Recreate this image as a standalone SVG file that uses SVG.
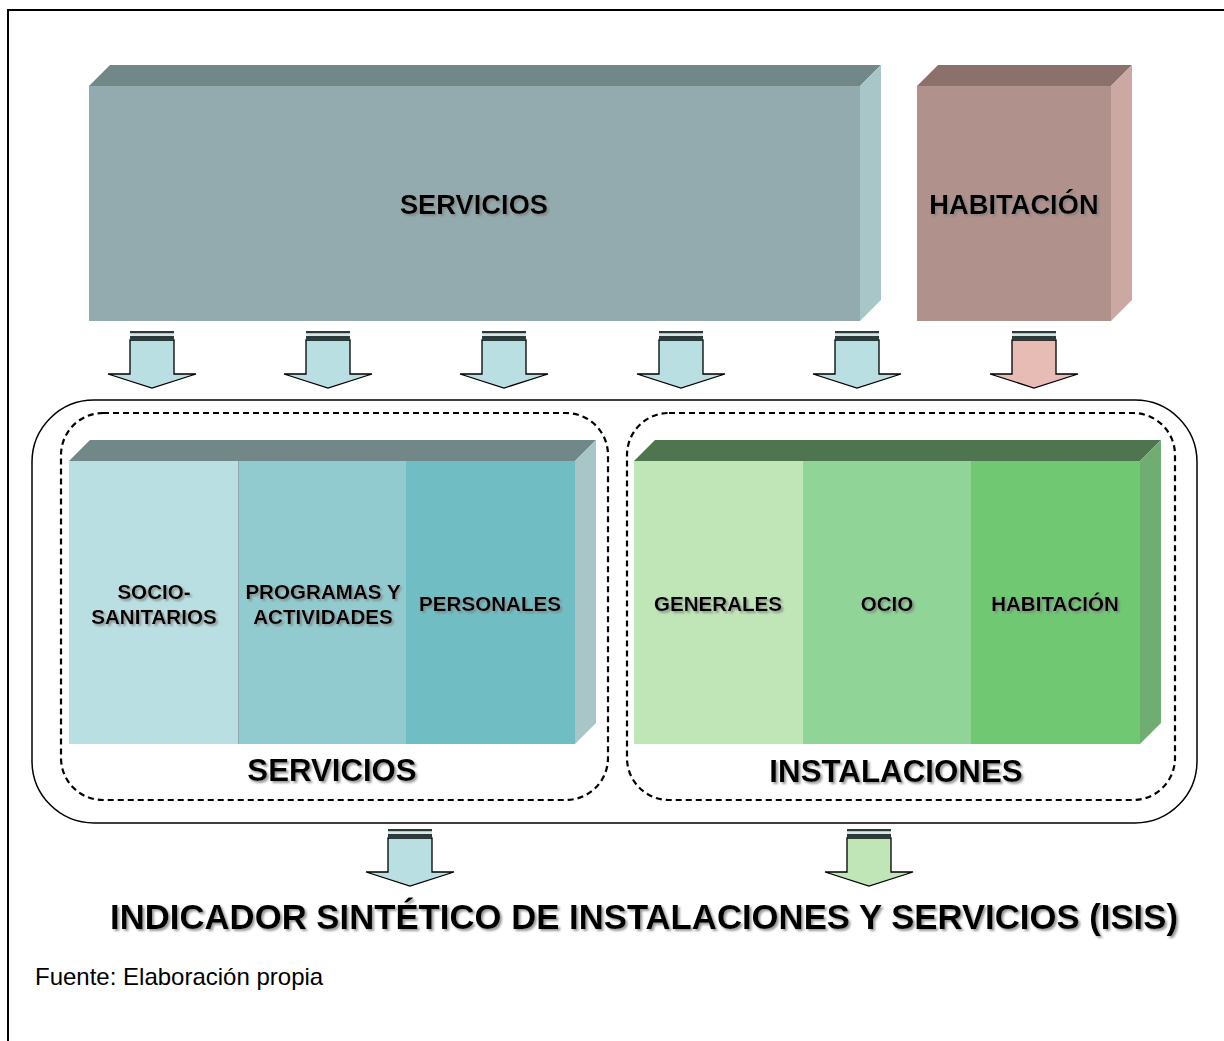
<svg xmlns="http://www.w3.org/2000/svg" width="1224" height="1041" viewBox="0 0 1224 1041">
<style>
  .lbl{font-family:"Liberation Sans",Arial,sans-serif;font-weight:bold;fill:#000;text-anchor:middle;filter:url(#sh)}
  .arrow{stroke:#000;stroke-width:1.3;stroke-linejoin:miter}
  .stripe{fill:#2b3a3a}
  .dash{fill:none;stroke:#000;stroke-width:2.2;stroke-dasharray:6 4}
</style>
<defs>
  <filter id="sh" x="-10%" y="-30%" width="120%" height="160%">
    <feDropShadow dx="2" dy="2" stdDeviation="1" flood-color="#808080" flood-opacity="0.8"/>
  </filter>
  <g id="arrowShape">
    <path class="arrow" d="M-22,9 H22 V43 H44 L0,57 L-44,43 H-22 Z"/>
    <rect class="stripe" x="-22" y="0" width="44" height="2.5"/>
    <rect x="-22" y="2.5" width="44" height="2.5" fill="#d8e6e6" stroke="none"/>
    <rect class="stripe" x="-22" y="5" width="44" height="3.5"/>
  </g>
</defs>
<rect width="1224" height="1041" fill="#fff"/>
<path d="M8,1041 V10 H1224" fill="none" stroke="#000" stroke-width="2"/>

<g id="box-servicios-top">
  <polygon points="89,86 110,65 881,65 860,86" fill="#718788"/>
  <polygon points="860,86 881,65 881,300 860,321" fill="#A8C5C8"/>
  <rect x="89" y="86" width="771" height="235" fill="#93ABAE"/>
  <text class="lbl" x="474" y="214" font-size="27.3">SERVICIOS</text>
</g>
<g id="box-habitacion-top">
  <polygon points="917,86 938,65 1132,65 1111,86" fill="#8B706B"/>
  <polygon points="1111,86 1132,65 1132,300 1111,321" fill="#CBA8A2"/>
  <rect x="917" y="86" width="194" height="235" fill="#B0918B"/>
  <text class="lbl" x="1014" y="214" font-size="27.3">HABITACIÓN</text>
</g>

<g id="connectors">
  <use href="#arrowShape" x="152" y="331" fill="#BADFE2"/>
  <use href="#arrowShape" x="328" y="331" fill="#BADFE2"/>
  <use href="#arrowShape" x="504" y="331" fill="#BADFE2"/>
  <use href="#arrowShape" x="681" y="331" fill="#BADFE2"/>
  <use href="#arrowShape" x="857" y="331" fill="#BADFE2"/>
  <use href="#arrowShape" x="1034" y="331" fill="#E6BCB5"/>
  <use href="#arrowShape" x="410" y="829" fill="#BADFE2"/>
  <use href="#arrowShape" x="869" y="829" fill="#C0E6B8"/>
</g>

<g id="container">
  <rect x="32" y="400" width="1165" height="423" rx="62" ry="62" fill="none" stroke="#000" stroke-width="1.5"/>
</g>

<g id="group-servicios">
  <rect class="dash" x="61" y="413" width="547" height="387" rx="42" ry="42"/>
  <polygon points="69,461 90,440 596,440 575,461" fill="#718788"/>
  <polygon points="575,461 596,440 596,723 575,744" fill="#A8C5C8"/>
  <rect x="69" y="461" width="169" height="283" fill="#BADFE2"/>
  <rect x="238" y="461" width="168" height="283" fill="#91CBCF"/>
  <rect x="406" y="461" width="169" height="283" fill="#70BEC4"/>
  <line x1="238.5" y1="461" x2="238.5" y2="744" stroke="#8fa9ab" stroke-width="1"/>
  <text class="lbl" x="154" y="599" font-size="20.6">SOCIO-</text>
  <text class="lbl" x="154" y="624" font-size="20.6">SANITARIOS</text>
  <text class="lbl" x="323" y="599" font-size="20.6">PROGRAMAS Y</text>
  <text class="lbl" x="323" y="624" font-size="20.6">ACTIVIDADES</text>
  <text class="lbl" x="490" y="611" font-size="20.6">PERSONALES</text>
  <text class="lbl" x="332" y="781" font-size="31.2">SERVICIOS</text>
</g>

<g id="group-instalaciones">
  <rect class="dash" x="627" y="413" width="548" height="387" rx="42" ry="42"/>
  <polygon points="634,461 655,440 1161,440 1140,461" fill="#4F7550"/>
  <polygon points="1140,461 1161,440 1161,723 1140,744" fill="#6FAD72"/>
  <rect x="634" y="461" width="169" height="283" fill="#C0E6B8"/>
  <rect x="803" y="461" width="168" height="283" fill="#90D498"/>
  <rect x="971" y="461" width="169" height="283" fill="#70C873"/>
  <text class="lbl" x="718" y="611" font-size="20.6">GENERALES</text>
  <text class="lbl" x="887" y="611" font-size="20.6">OCIO</text>
  <text class="lbl" x="1055" y="611" font-size="20.6">HABITACIÓN</text>
  <text class="lbl" x="896" y="782" font-size="31.3">INSTALACIONES</text>
</g>

<g id="title">
  <text class="lbl" x="644" y="929" font-size="34.5" textLength="1068" lengthAdjust="spacingAndGlyphs">INDICADOR SINTÉTICO DE INSTALACIONES Y SERVICIOS (ISIS)</text>
</g>
<text x="35" y="985" font-family="Liberation Sans, Arial, sans-serif" font-size="24" fill="#000">Fuente: Elaboración propia</text>
</svg>
